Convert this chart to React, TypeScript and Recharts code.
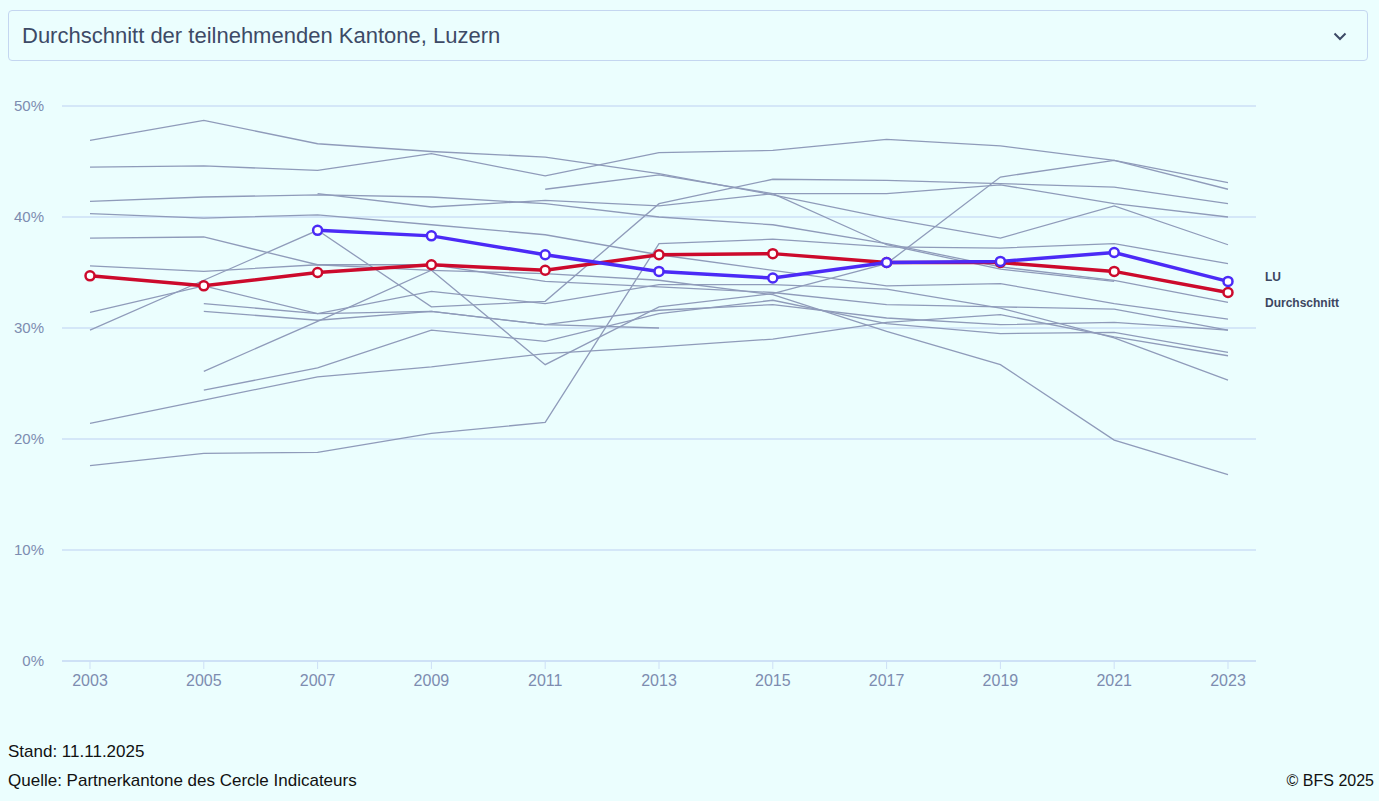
import { LineChart, Line, XAxis, YAxis, CartesianGrid } from "recharts";

const years = ["2003", "2005", "2007", "2009", "2011", "2013", "2015", "2017", "2019", "2021", "2023"];
const yTicks = [0, 10, 20, 30, 40, 50];

const lu = [null, null, 38.8, 38.3, 36.6, 35.1, 34.5, 35.9, 36.0, 36.8, 34.2];
const durchschnitt = [34.7, 33.8, 35.0, 35.7, 35.2, 36.6, 36.7, 35.9, 35.9, 35.1, 33.2];

// other participating cantons (grey background lines)
const kantonA = [46.9, 48.7, 46.6, 45.9, 45.4, 43.9, 42.0, 39.9, 38.1, 41.0, 37.5];
const kantonB = [44.5, 44.6, 44.2, 45.7, 43.7, 45.8, 46.0, 47.0, 46.4, 45.1, 43.1];
const kantonC = [41.4, 41.8, 42.0, 41.8, 41.2, 40.0, 39.3, 37.6, 35.5, 34.3, 32.3];
const kantonD = [40.3, 39.9, 40.2, 39.3, 38.4, 36.6, 35.2, 33.8, 34.0, 32.2, 30.8];
const kantonE = [null, null, null, null, 42.5, 43.8, 42.1, 37.5, 35.3, 34.2, null];
const kantonF = [null, null, 42.1, 40.9, 41.5, 41.0, 42.1, 42.1, 42.9, 41.2, 40.0];
const kantonG = [29.8, 34.3, 38.8, 31.9, 32.4, 41.2, 43.4, 43.3, 43.0, 42.7, 41.2];
const kantonH = [38.1, 38.2, 35.7, 35.7, 34.2, 33.7, 33.2, 32.1, 31.9, 31.7, 29.8];
const kantonI = [35.6, 35.1, 35.7, 35.2, 34.9, 34.3, 33.0, 29.7, 26.7, 19.9, 16.8];
const kantonJ = [31.4, 33.8, 31.3, 33.3, 32.2, 33.9, 33.9, 33.5, 31.8, 29.1, 25.3];
const kantonK = [null, 32.2, 31.3, 31.5, 30.3, 30.0, null, null, null, null, null];
const kantonL = [null, 31.5, 30.7, 31.5, 30.3, 31.6, 32.1, 30.9, 30.3, 30.5, 29.8];
const kantonM = [null, 26.1, 30.6, 35.2, 26.7, 31.9, 33.1, 35.8, 43.6, 45.1, 42.5];
const kantonN = [null, 24.4, 26.4, 29.8, 28.8, 31.3, 32.5, 30.4, 29.5, 29.6, 27.8];
const kantonO = [21.4, 23.5, 25.6, 26.5, 27.7, 28.3, 29.0, 30.5, 31.2, 29.2, 27.5];
const kantonP = [17.6, 18.7, 18.8, 20.5, 21.5, 37.6, 38.0, 37.3, 37.2, 37.6, 35.8];

const kantone = [
  kantonA, kantonB, kantonC, kantonD, kantonE, kantonF, kantonG, kantonH,
  kantonI, kantonJ, kantonK, kantonL, kantonM, kantonN, kantonO, kantonP,
];

const data = years.map((year, i) => {
  const row: Record<string, string | number | null> = { year, lu: lu[i], avg: durchschnitt[i] };
  kantone.forEach((k, j) => {
    row[`k${j}`] = k[i];
  });
  return row;
});

const BG = "#ebfefe";
const FONT = '"Liberation Sans", Arial, sans-serif';
const TICK = "#7d8cb0";
const GRID = "#cddff6";

export default function App() {
  return (
    <div
      style={{
        position: "absolute",
        left: 0,
        top: 0,
        width: 1379,
        height: 801,
        background: BG,
        fontFamily: FONT,
        overflow: "hidden",
      }}
    >
      <div
        style={{
          position: "absolute",
          left: 8,
          top: 10,
          width: 1360,
          height: 51,
          border: "1px solid #c4d6f0",
          borderRadius: 4,
          boxSizing: "border-box",
          display: "flex",
          alignItems: "center",
          paddingLeft: 13,
          fontSize: 22,
          color: "#3d4a66",
        }}
      >
        Durchschnitt der teilnehmenden Kantone, Luzern
        <svg
          width="14"
          height="9"
          viewBox="0 0 14 9"
          style={{ position: "absolute", right: 20, top: 21 }}
        >
          <path d="M1.5 1.5 L7 7 L12.5 1.5" fill="none" stroke="#3d4a66" strokeWidth="2" />
        </svg>
      </div>

      <div style={{ position: "absolute", left: 0, top: 0 }}>
        <LineChart
          width={1379}
          height={720}
          data={data}
          margin={{ top: 106, right: 123, bottom: 29, left: 0 }}
        >
          <CartesianGrid vertical={false} stroke={GRID} strokeWidth={1.5} />
          <XAxis
            dataKey="year"
            padding={{ left: 28, right: 28 }}
            height={30}
            axisLine={{ stroke: GRID, strokeWidth: 1.5 }}
            tickLine={{ stroke: GRID }}
            tickSize={8}
            tickMargin={6}
            tick={{ fontSize: 16, fill: TICK, fontFamily: FONT }}
          />
          <YAxis
            domain={[0, 50]}
            ticks={yTicks}
            width={62}
            axisLine={false}
            tickLine={false}
            tickSize={0}
            tickMargin={18}
            tickFormatter={(v: number) => `${v}%`}
            tick={{ fontSize: 15, fill: TICK, fontFamily: FONT }}
          />
          {kantone.map((_, j) => (
            <Line
              key={j}
              dataKey={`k${j}`}
              stroke="#8f9bba"
              strokeWidth={1.3}
              dot={false}
              activeDot={false}
              isAnimationActive={false}
            />
          ))}
          <Line
            dataKey="avg"
            stroke="#cc0a2c"
            strokeWidth={3.5}
            dot={{ r: 4.5, fill: "#fff", stroke: "#cc0a2c", strokeWidth: 2.5 }}
            activeDot={false}
            isAnimationActive={false}
          />
          <Line
            dataKey="lu"
            stroke="#4b2af6"
            strokeWidth={3.5}
            dot={{ r: 4.5, fill: "#fff", stroke: "#4b2af6", strokeWidth: 2.5 }}
            activeDot={false}
            isAnimationActive={false}
          />
        </LineChart>
      </div>

      <div style={{ position: "absolute", left: 1265, top: 270, fontSize: 12, fontWeight: "bold", color: "#3d4660" }}>
        LU
      </div>
      <div style={{ position: "absolute", left: 1265, top: 296, fontSize: 12, fontWeight: "bold", color: "#3d4660" }}>
        Durchschnitt
      </div>

      <div style={{ position: "absolute", left: 8, top: 742, fontSize: 17, color: "#111" }}>Stand: 11.11.2025</div>
      <div style={{ position: "absolute", left: 8, top: 771, fontSize: 17, color: "#111" }}>
        Quelle: Partnerkantone des Cercle Indicateurs
      </div>
      <div style={{ position: "absolute", right: 5, top: 772, fontSize: 16, color: "#111", whiteSpace: "nowrap" }}>
        © BFS 2025
      </div>
    </div>
  );
}
